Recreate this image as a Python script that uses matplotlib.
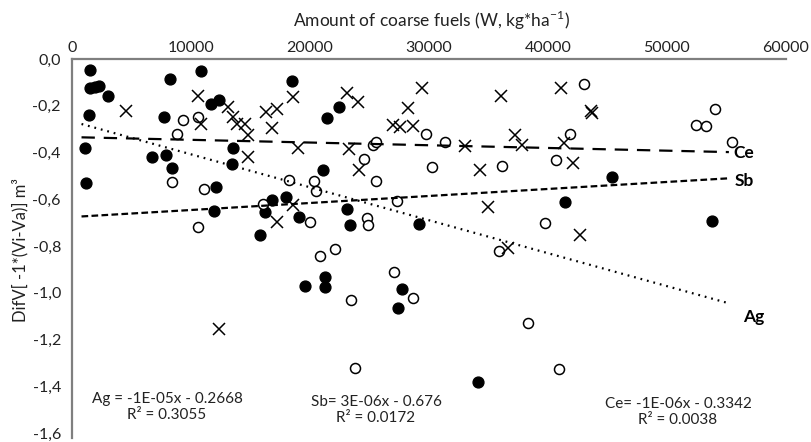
import numpy as np
import matplotlib
matplotlib.use("Agg")
import matplotlib.pyplot as plt
from matplotlib.ticker import FuncFormatter

plt.rcParams['font.family'] = ['Lato', 'DejaVu Sans']

# filled circles (Ag)
ag_x = [1513, 1513, 1933, 2269, 3050, 1429, 1092, 1151, 8235, 10840, 7731, 6748,
        7874, 8378, 11655, 12352, 13554, 13420, 12075, 11932, 18461, 21453, 22462,
        21117, 16781, 16218, 17983, 19100, 15823, 23150, 23386, 29184, 45351, 41427,
        53821, 19621, 21260, 21260, 27705, 27419, 34090]
ag_y = [-0.046, -0.123, -0.119, -0.115, -0.160, -0.238, -0.380, -0.532, -0.085, -0.052,
        -0.246, -0.418, -0.411, -0.465, -0.191, -0.174, -0.380, -0.451, -0.546, -0.652,
        -0.092, -0.252, -0.206, -0.475, -0.603, -0.655, -0.591, -0.674, -0.752, -0.641,
        -0.709, -0.708, -0.503, -0.611, -0.695, -0.969, -0.934, -0.977, -0.982, -1.066,
        -1.380]

# open circles (Sb)
sb_x = [9353, 10613, 8798, 8428, 11117, 10630, 18235, 20336, 20479, 20000, 16075, 24579,
        25268, 25546, 25546, 27285, 24764, 24899, 29747, 30226, 43066, 31343, 36108,
        41847, 40670, 39746, 54031, 52434, 53275, 55434, 20839, 22100, 23486, 27041,
        28680, 23780, 35881, 38293, 40940]
sb_y = [-0.263, -0.248, -0.319, -0.525, -0.557, -0.717, -0.518, -0.520, -0.565, -0.696,
        -0.619, -0.426, -0.369, -0.354, -0.521, -0.606, -0.681, -0.709, -0.321, -0.462,
        -0.106, -0.354, -0.456, -0.321, -0.431, -0.702, -0.213, -0.281, -0.286, -0.355,
        -0.842, -0.814, -1.033, -0.911, -1.021, -1.323, -0.821, -1.131, -1.328]

# crosses (Ce)
ce_x = [4538, 10588, 10840, 13151, 13571, 13865, 14537, 14790, 14764, 16302, 17268,
        16781, 18571, 19016, 23083, 24058, 23319, 24159, 29453, 28277, 26974, 27563,
        28680, 18596, 17268, 36075, 41116, 43654, 43688, 37226, 37856, 33024, 41385,
        34285, 42125, 34916, 42730, 12352, 36630]
ce_y = [-0.223, -0.160, -0.279, -0.204, -0.248, -0.277, -0.277, -0.326, -0.421, -0.226,
        -0.215, -0.296, -0.161, -0.381, -0.147, -0.183, -0.383, -0.474, -0.126, -0.211,
        -0.281, -0.292, -0.287, -0.624, -0.699, -0.160, -0.123, -0.221, -0.232, -0.326,
        -0.369, -0.371, -0.360, -0.475, -0.447, -0.635, -0.755, -1.156, -0.809]

# trend lines (slope, intercept) and their x range
trend_names = ['Ag', 'Sb', 'Ce']
trend_slope = [-1.41e-05, 3.0e-06, -1.16e-06]
trend_icpt = [-0.2668, -0.676, -0.3342]
trend_x = [800, 55200]
trend_eq = ['Ag = -1E-05x - 0.2668\nR\u00b2 = 0.3055',
            'Sb= 3E-06x - 0.676\nR\u00b2 = 0.0172',
            'Ce= -1E-06x - 0.3342\nR\u00b2 = 0.0038']

xticks = [0, 10000, 20000, 30000, 40000, 50000, 60000]
yticks = [0.0, -0.2, -0.4, -0.6, -0.8, -1.0, -1.2, -1.4, -1.6]

W, H = 811, 442
fig = plt.figure(figsize=(W / 100, H / 100), dpi=100)
ax = fig.add_axes([72 / W, 1 - 433 / H, 714 / W, 374 / H])


def px(x, y):
    # figure pixel position -> figure fraction
    return x / W, 1 - y / H


ax.plot(ag_x, ag_y, 'o', color='black', ms=7.8, ls='none')
ax.plot(sb_x, sb_y, 'o', mfc='white', mec='black', mew=1.1, ms=7.2, ls='none')
ax.plot(ce_x, ce_y, 'x', color='black', mew=1.1, ms=8.5, ls='none')

styles = {'Ag': (0, (0.8, 2.2)), 'Sb': (0, (3, 1.5)), 'Ce': (0, (6, 4))}
tx = np.array(trend_x)
for name, k, b in zip(trend_names, trend_slope, trend_icpt):
    ax.plot(tx, k * tx + b, color='black', lw=1.6, ls=styles[name])

# line tags and equations
tag_pos = {'Ce': (733, 153), 'Sb': (735, 181), 'Ag': (743, 317)}
for name, (x, y) in tag_pos.items():
    fig.text(*px(x, y), name, fontsize=12.5, fontweight='bold', va='center')
eq_pos = [(167, 407), (376, 410), (678, 412)]
for (x, y), s in zip(eq_pos, trend_eq):
    fig.text(*px(x, y), s, fontsize=11, ha='center', va='center', linespacing=1.25,
             color='#222222')

ax.set_xlim(0, 60000)
ax.set_ylim(-1.6, 0)
ax.set_xticks(xticks)
ax.set_yticks(yticks)
ax.xaxis.tick_top()
ax.yaxis.set_major_formatter(FuncFormatter(
    lambda v, p: f"{abs(v) if abs(v) < 1e-9 else v:.1f}".replace('.', ',')))
ax.tick_params(axis='both', length=0, labelsize=11.5, colors='#222222')
ax.tick_params(axis='x', pad=3)
ax.tick_params(axis='y', pad=8)

for s in ['right', 'bottom']:
    ax.spines[s].set_visible(False)
for s in ['top', 'left']:
    ax.spines[s].set_color('#7f7f7f')
    ax.spines[s].set_linewidth(1.6)
ax.spines['left'].set_bounds(-1.62, 0)

fig.text(*px(431, 20), r'Amount of coarse fuels (W, kg*ha$^{\mathregular{-1}}$)',
         fontsize=12.5, color='#222222', ha='center', va='center')
fig.text(*px(20, 250), 'DifV[ -1*(Vi-Va)] m\u00b3', rotation=90,
         fontsize=12, color='#222222', ha='center', va='center')

fig.savefig('out.png', dpi=100)
